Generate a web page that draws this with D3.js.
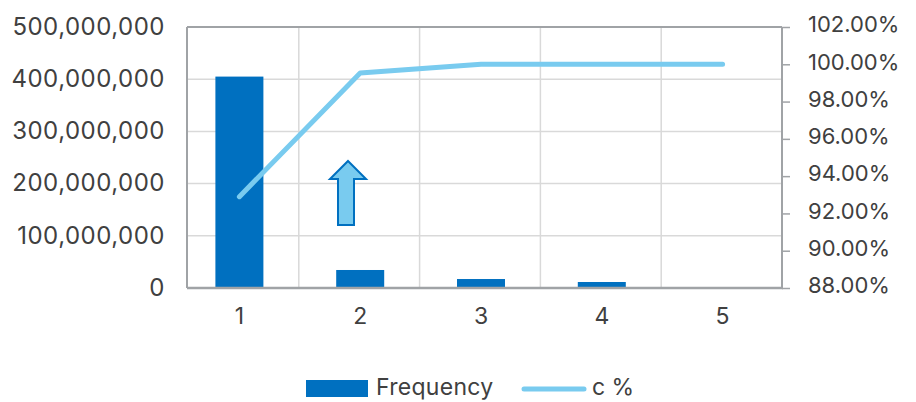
<!DOCTYPE html>
<html>
<head>
<meta charset="utf-8">
<script src="https://cdn.jsdelivr.net/npm/d3@7"></script>
<style>
  html, body { margin: 0; padding: 0; background: #fff; }
  svg { display: block; }
  text { font-family: "Inter", "Open Sans", sans-serif; fill: #404040; }
</style>
</head>
<body>
<svg id="chart" width="916" height="402"></svg>
<script>
// ---- data ----
const categories = [1, 2, 3, 4, 5];
const frequency = [405000000, 34500000, 17200000, 11500000, 500000];
const cumPercent = [0.929, 0.9953, 1.0, 1.0, 1.0];
const leftTicks = [0, 100000000, 200000000, 300000000, 400000000, 500000000];
const rightTicks = [0.88, 0.90, 0.92, 0.94, 0.96, 0.98, 1.00, 1.02];
const seriesNames = ["Frequency", "c %"];

const svg = d3.select("#chart");
const plot = { left: 187, right: 782, top: 27, bottom: 288 };

const x = d3.scaleBand().domain(categories).range([179, 783]).paddingInner(0).paddingOuter(0);
const yL = d3.scaleLinear().domain([0, 500000000]).range([plot.bottom, plot.top]);
const yR = d3.scaleLinear().domain([0.88, 1.02]).range([plot.bottom, plot.top]);

const barColor = "#0070C0";
const lineColor = "#79CBEF";
const gridColor = "#D9D9D9";
const axisColor = "#A0A3A6";

// horizontal gridlines
svg.append("g").selectAll("line").data(leftTicks.slice(1, -1)).join("line")
  .attr("x1", plot.left).attr("x2", plot.right)
  .attr("y1", d => yL(d)).attr("y2", d => yL(d))
  .attr("stroke", gridColor).attr("stroke-width", 1.5);

// vertical gridlines at category boundaries
svg.append("g").selectAll("line").data(categories.slice(1)).join("line")
  .attr("x1", d => x(d) - 1).attr("x2", d => x(d) - 1)
  .attr("y1", plot.top).attr("y2", plot.bottom)
  .attr("stroke", gridColor).attr("stroke-width", 1.5);

// bars
const bw = 48;
svg.append("g").selectAll("rect").data(categories).join("rect")
  .attr("x", (d) => x(d) + x.bandwidth() / 2 - bw / 2)
  .attr("width", bw)
  .attr("y", (d, i) => yL(frequency[i]))
  .attr("height", (d, i) => plot.bottom - yL(frequency[i]))
  .attr("fill", barColor);

// frame: top and left
svg.append("line").attr("x1", plot.left).attr("x2", plot.right).attr("y1", plot.top).attr("y2", plot.top)
  .attr("stroke", axisColor).attr("stroke-width", 2);
svg.append("line").attr("x1", plot.left).attr("x2", plot.left).attr("y1", plot.top).attr("y2", plot.bottom)
  .attr("stroke", axisColor).attr("stroke-width", 2);

// bottom axis line
svg.append("line").attr("x1", plot.left).attr("x2", plot.right + 1).attr("y1", plot.bottom).attr("y2", plot.bottom)
  .attr("stroke", axisColor).attr("stroke-width", 2.5);

// right axis
const rightAxis = d3.axisRight(yR).tickValues(rightTicks).tickFormat(d3.format(".2%")).tickSize(8).tickPadding(18);
const gR = svg.append("g").attr("transform", `translate(${plot.right},0)`).call(rightAxis);
gR.select(".domain").attr("stroke", axisColor).attr("stroke-width", 2).attr("d", `M0,${plot.top}V${plot.bottom}`);
gR.selectAll(".tick line").attr("stroke", axisColor).attr("stroke-width", 1.5);
gR.selectAll(".tick text").style("font-size", "22px").attr("fill", "#404040").attr("x", 26).attr("dy", "0.22em");

// left axis labels
const leftAxis = d3.axisLeft(yL).tickValues(leftTicks).tickFormat(d3.format(",")).tickSize(0).tickPadding(22);
const gL = svg.append("g").attr("transform", `translate(${plot.left},0)`).call(leftAxis);
gL.select(".domain").remove();
gL.selectAll(".tick text").style("font-size", "24px").style("letter-spacing", "0.5px")
  .attr("fill", "#404040").attr("dy", "0.3em");

// x axis labels
const xAxis = d3.axisBottom(x).tickSize(0).tickPadding(20);
const gX = svg.append("g").attr("transform", `translate(0,${plot.bottom})`).call(xAxis);
gX.select(".domain").remove();
gX.selectAll(".tick text").style("font-size", "23px").attr("fill", "#404040");

// cumulative line
const line = d3.line()
  .x((d, i) => x(categories[i]) + x.bandwidth() / 2)
  .y(d => yR(d));
svg.append("path").datum(cumPercent)
  .attr("d", line)
  .attr("fill", "none").attr("stroke", lineColor).attr("stroke-width", 5)
  .attr("stroke-linecap", "round").attr("stroke-linejoin", "round");

// arrow annotation
svg.append("path")
  .attr("d", "M348,161 L366,179 L354,179 L354,225 L338,225 L338,179 L330,179 Z")
  .attr("fill", "#79CBEF").attr("stroke", barColor).attr("stroke-width", 2).attr("stroke-linejoin", "miter");

// legend
const lg = svg.append("g");
lg.append("rect").attr("x", 306).attr("y", 380).attr("width", 62).attr("height", 17).attr("fill", barColor);
lg.append("text").attr("x", 376).attr("y", 395).style("font-size", "23px").style("letter-spacing", "0.3px").text(seriesNames[0]);
lg.append("line").attr("x1", 524).attr("x2", 584).attr("y1", 389).attr("y2", 389)
  .attr("stroke", lineColor).attr("stroke-width", 5).attr("stroke-linecap", "round");
lg.append("text").attr("x", 592).attr("y", 395).style("font-size", "23px").text(seriesNames[1]);
</script>
</body>
</html>
